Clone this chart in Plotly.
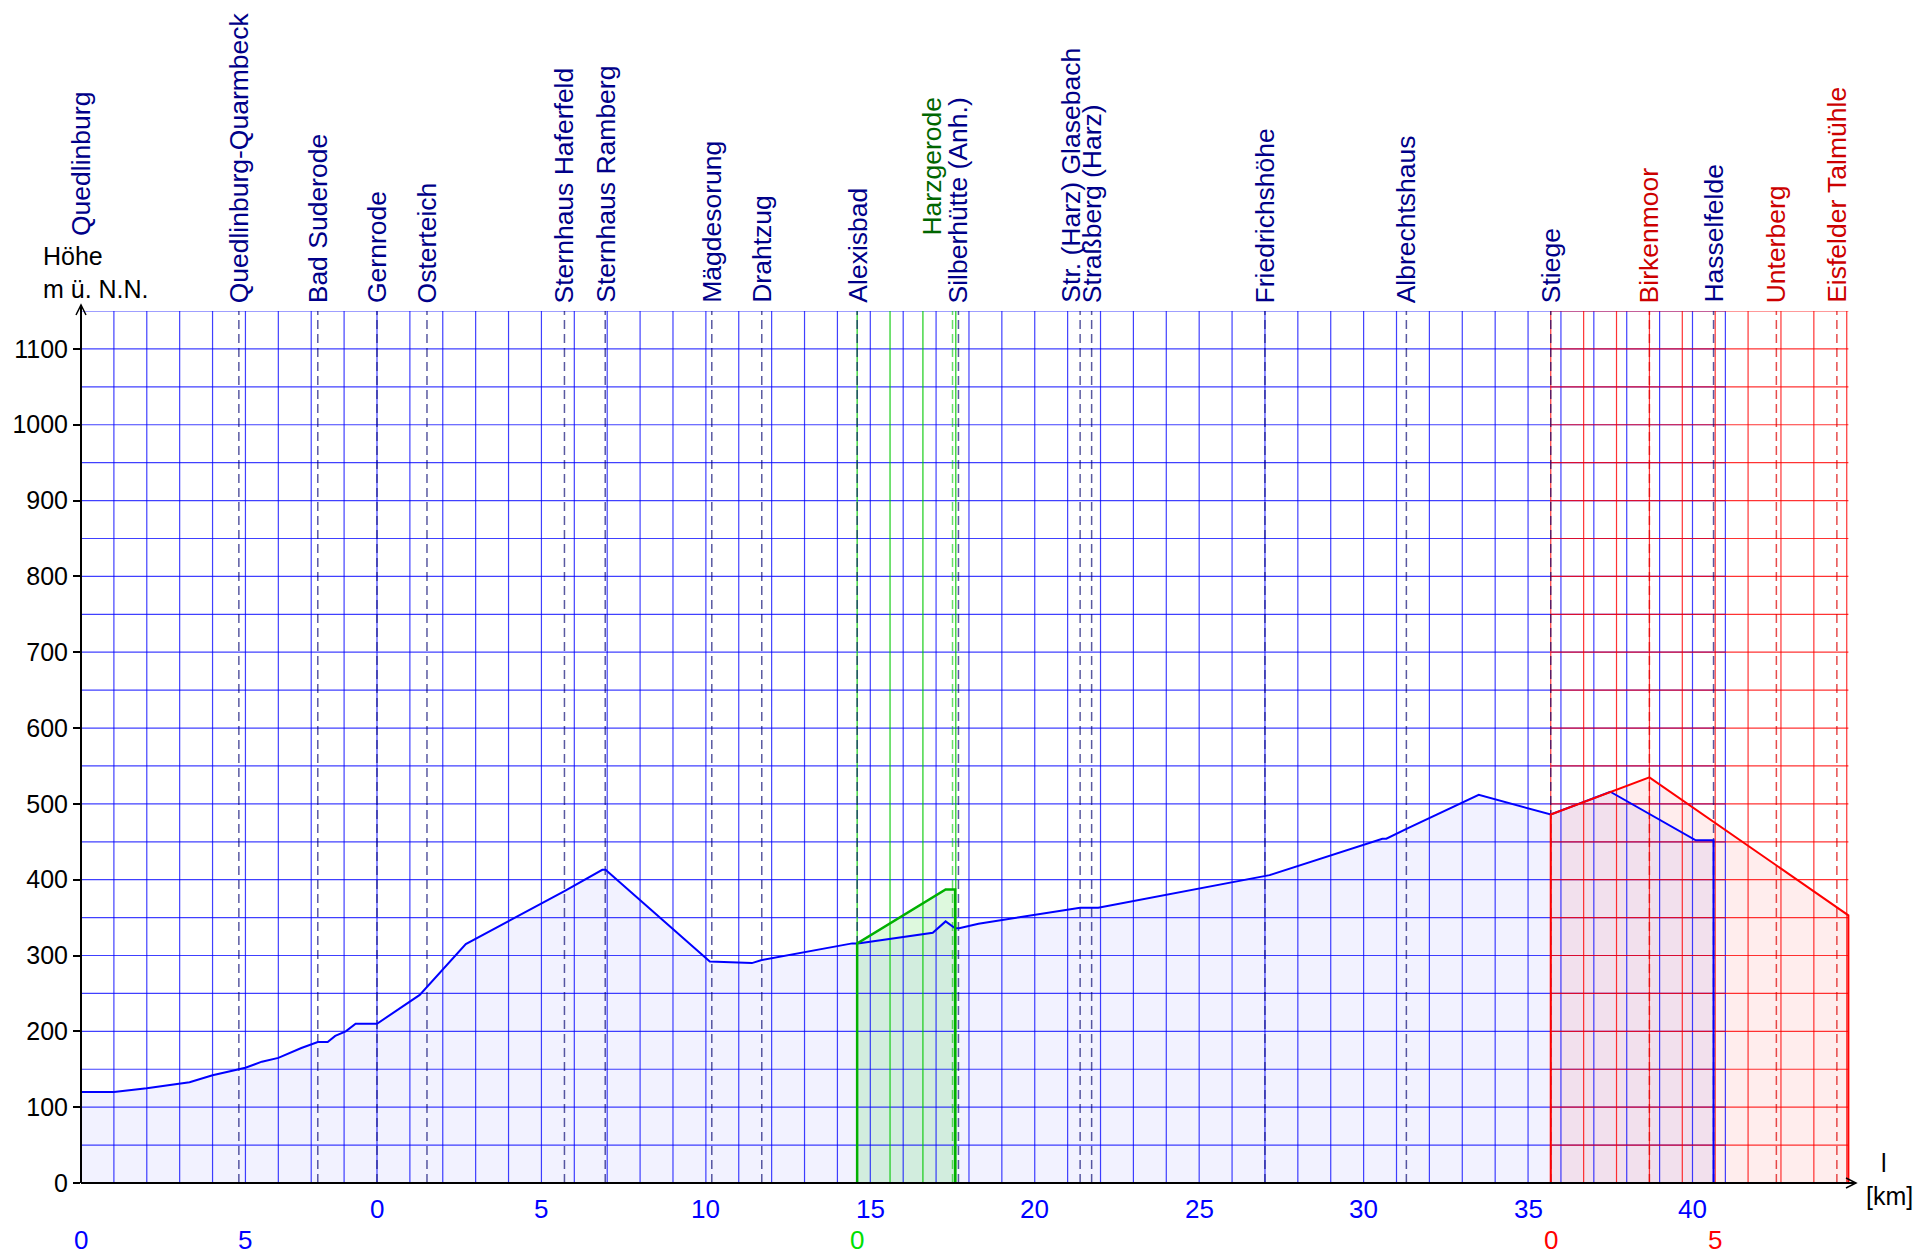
import plotly.graph_objects as go
import numpy as np

# ---------------- data (km on the Gernrode scale, height in m) ----------------
main_km = [-9.0, -8.0, -7.0, -5.7, -5.0, -4.0, -3.5, -3.0, -2.3, -1.8, -1.5, -1.27,
           -0.95, -0.65, 0.0, 1.3, 2.7, 5.7, 6.85, 6.95, 10.12, 11.4, 11.7, 14.45,
           14.62, 16.9, 17.29, 17.58, 17.7, 18.29, 21.38, 21.93, 27.0, 27.14, 30.57,
           30.69, 31.35, 33.5, 35.69, 37.5, 40.1, 40.64]
main_m = [120, 120, 125, 133, 142, 152, 160, 165, 178, 186, 186, 194,
          200, 210, 210, 248, 315, 385, 413, 413, 292, 290, 294, 316,
          316, 330, 345, 336, 336, 342, 363, 363, 404, 406, 454,
          454, 468, 512, 486, 516, 452, 452]

harz_km = [14.6, 17.29, 17.58]
harz_m = [316, 387, 387]

eisf_km = [35.69, 38.69, 44.74]
eisf_m = [486, 535, 353]

station_names = ["Quedlinburg", "Quedlinburg-Quarmbeck", "Bad Suderode", "Gernrode",
                 "Osterteich", "Sternhaus Haferfeld", "Sternhaus Ramberg", "Mägdesorung",
                 "Drahtzug", "Alexisbad", "Harzgerode", "Silberhütte (Anh.)",
                 "Str. (Harz) Glasebach", "Straßberg (Harz)", "Friedrichshöhe",
                 "Albrechtshaus", "Stiege", "Birkenmoor", "Hasselfelde", "Unterberg",
                 "Eisfelder Talmühle"]
station_km = [-9.0, -4.2, -1.8, 0.0, 1.52, 5.7, 6.94, 10.18, 11.7, 14.6, 17.5, 17.68,
              21.38, 21.73, 27.0, 31.3, 35.69, 38.69, 40.64, 42.55, 44.39]
station_line = ["main", "main", "main", "main", "main", "main", "main", "main", "main",
                "main", "harz", "main", "main", "main", "main", "main", "main", "eisf",
                "main", "eisf", "eisf"]

main_ticks = [0, 5, 10, 15, 20, 25, 30, 35, 40]
quedl_ticks = [0, 5]
harz_ticks = [0]
eisf_ticks = [0, 5]

QUEDL_ORIGIN = main_km[0]
HARZ_ORIGIN = harz_km[0]
EISF_ORIGIN = eisf_km[0]

# ---------------- layout constants ----------------
X_MIN, X_MAX = -9.0, 44.85
Y_MAX = 1150
W, H = 1932, 1255
ML, MR, MT, MB = 73, 88, 303, 80
PW, PH = W - ML - MR, H - MT - MB

FONT = "Liberation Sans, Arial, sans-serif"
NAVY = "#000088"
BLUE = "#0000ff"
GRID_BLUE = "rgba(0,0,255,0.75)"
GREEN = "#00b000"
RED = "#ff0000"

fig = go.Figure()


def grid_trace(xs_list, ys_list, color, width=1.2, dash=None):
    xs, ys = [], []
    for x, y in zip(xs_list, ys_list):
        xs += list(x) + [None]
        ys += list(y) + [None]
    fig.add_trace(go.Scatter(x=xs, y=ys, mode="lines", hoverinfo="skip",
                             line=dict(color=color, width=width, dash=dash),
                             showlegend=False))


def closed(km, m):
    return [km[0]] + list(km) + [km[-1]], [0] + list(m) + [0]


# fills
for km, m, fc in [(main_km, main_m, "rgba(0,0,255,0.05)"),
                  (harz_km, harz_m, "rgba(0,210,0,0.13)"),
                  (eisf_km, eisf_m, "rgba(255,0,0,0.07)")]:
    x, y = closed(km, m)
    fig.add_trace(go.Scatter(x=x, y=y, mode="lines", fill="toself", fillcolor=fc,
                             line=dict(width=0), hoverinfo="skip", showlegend=False))

# blue grid
blue_end = 41
vx = np.arange(X_MIN, blue_end + 0.5, 1.0)
grid_trace([[v, v] for v in vx], [[0, Y_MAX]] * len(vx), GRID_BLUE)
hy = np.arange(0, Y_MAX + 1, 50)
grid_trace([[X_MIN, blue_end]] * len(hy), [[h, h] for h in hy], GRID_BLUE)

# green grid (branch to Harzgerode)
gx = HARZ_ORIGIN + np.arange(0, 3.5, 1.0)
grid_trace([[v, v] for v in gx], [[0, Y_MAX]] * len(gx), "rgba(0,200,0,0.9)")

# red grid (branch to Eisfelder Talmühle)
rx = EISF_ORIGIN + np.arange(0, 9.5, 1.0)
grid_trace([[v, v] for v in rx], [[0, Y_MAX]] * len(rx), "rgba(255,0,0,0.8)")
grid_trace([[EISF_ORIGIN, eisf_km[-1]]] * len(hy), [[h, h] for h in hy], "rgba(255,0,0,0.8)")

# station dashed lines
line_col = {"main": "rgba(0,0,110,0.65)", "harz": "rgba(0,200,0,0.6)",
            "eisf": "rgba(220,0,0,0.7)"}
for kind in ["main", "harz", "eisf"]:
    sx = [k for k, t in zip(station_km, station_line) if t == kind]
    grid_trace([[v, v] for v in sx], [[0, Y_MAX]] * len(sx), line_col[kind],
               width=1.5, dash="9px,5px")

# profile lines
for km, m, lc, lw in [(main_km, main_m, BLUE, 2),
                      (harz_km, harz_m, GREEN, 2.5),
                      (eisf_km, eisf_m, RED, 2)]:
    x, y = closed(km, m)
    fig.add_trace(go.Scatter(x=x, y=y, mode="lines", hoverinfo="skip",
                             line=dict(color=lc, width=lw), showlegend=False))

# ---------------- annotations ----------------
ann = []
label_col = {"main": NAVY, "harz": "#006600", "eisf": "#cc0000"}
for name, k, t in zip(station_names, station_km, station_line):
    ys, xs = 7, 0
    if name in ("Quedlinburg", "Harzgerode"):
        ys = 74
    if name == "Harzgerode":
        xs = -21
    if name == "Str. (Harz) Glasebach":
        xs = -10
    ann.append(dict(x=k, xref="x", y=Y_MAX, yref="y", text=name, textangle=-90,
                    showarrow=False, xanchor="center", yanchor="bottom",
                    xshift=xs, yshift=ys, borderpad=0,
                    font=dict(family=FONT, size=26.5, color=label_col[t])))

for t in main_ticks:
    ann.append(dict(x=t, xref="x", y=0, yref="paper", text=str(t), showarrow=False,
                    yanchor="middle", yshift=-26, font=dict(family=FONT, size=26, color=BLUE)))
for ticks, origin, col in [(quedl_ticks, QUEDL_ORIGIN, BLUE), (harz_ticks, HARZ_ORIGIN, "#00e000"),
                           (eisf_ticks, EISF_ORIGIN, RED)]:
    for t in ticks:
        ann.append(dict(x=origin + t, xref="x", y=0, yref="paper", text=str(t),
                        showarrow=False, yanchor="middle", yshift=-57,
                        font=dict(family=FONT, size=26, color=col)))

ann.append(dict(x=0, xref="paper", y=1, yref="paper", text="Höhe<br>m ü. N.N.",
                showarrow=False, xanchor="left", yanchor="bottom", align="left",
                xshift=-40, yshift=6, font=dict(family=FONT, size=25, color="black")))
ann.append(dict(x=1, xref="paper", y=0, yref="paper", text="l", showarrow=False,
                xanchor="center", yanchor="middle", xshift=32, yshift=20,
                font=dict(family=FONT, size=25, color="black")))
ann.append(dict(x=1, xref="paper", y=0, yref="paper", text="[km]", showarrow=False,
                xanchor="center", yanchor="middle", xshift=37, yshift=-13,
                font=dict(family=FONT, size=25, color="black")))

# axis lines with open arrow heads
shapes = [
    dict(type="line", xref="paper", yref="paper", x0=0, x1=0, y0=0, y1=1 + 6 / PH,
         line=dict(color="black", width=2)),
    dict(type="line", xref="paper", yref="paper", x0=0, x1=1 + 4 / PW, y0=0, y1=0,
         line=dict(color="black", width=2)),
    dict(type="path", xref="paper", yref="paper", xsizemode="pixel", ysizemode="pixel",
         xanchor=0, yanchor=1 + 6 / PH, path="M -5,-10 L 0,0 L 5,-10",
         line=dict(color="black", width=1.5)),
    dict(type="path", xref="paper", yref="paper", xsizemode="pixel", ysizemode="pixel",
         xanchor=1 + 4 / PW, yanchor=0, path="M -10,-5 L 0,0 L -10,5",
         line=dict(color="black", width=1.5)),
]

fig.update_layout(
    width=W, height=H,
    margin=dict(l=ML, r=MR, t=MT, b=MB, autoexpand=False),
    paper_bgcolor="white", plot_bgcolor="white",
    showlegend=False,
    annotations=ann, shapes=shapes,
    xaxis=dict(range=[X_MIN, X_MAX], showgrid=False, zeroline=False, showline=False,
               showticklabels=False, ticks=""),
    yaxis=dict(range=[0, Y_MAX], showgrid=False, zeroline=False, showline=False,
               tickvals=list(range(0, 1101, 100)), ticks="outside", ticklen=7,
               tickcolor="black", tickwidth=1.5,
               tickfont=dict(family=FONT, size=25, color="black")),
)

fig.write_html("out.html")
